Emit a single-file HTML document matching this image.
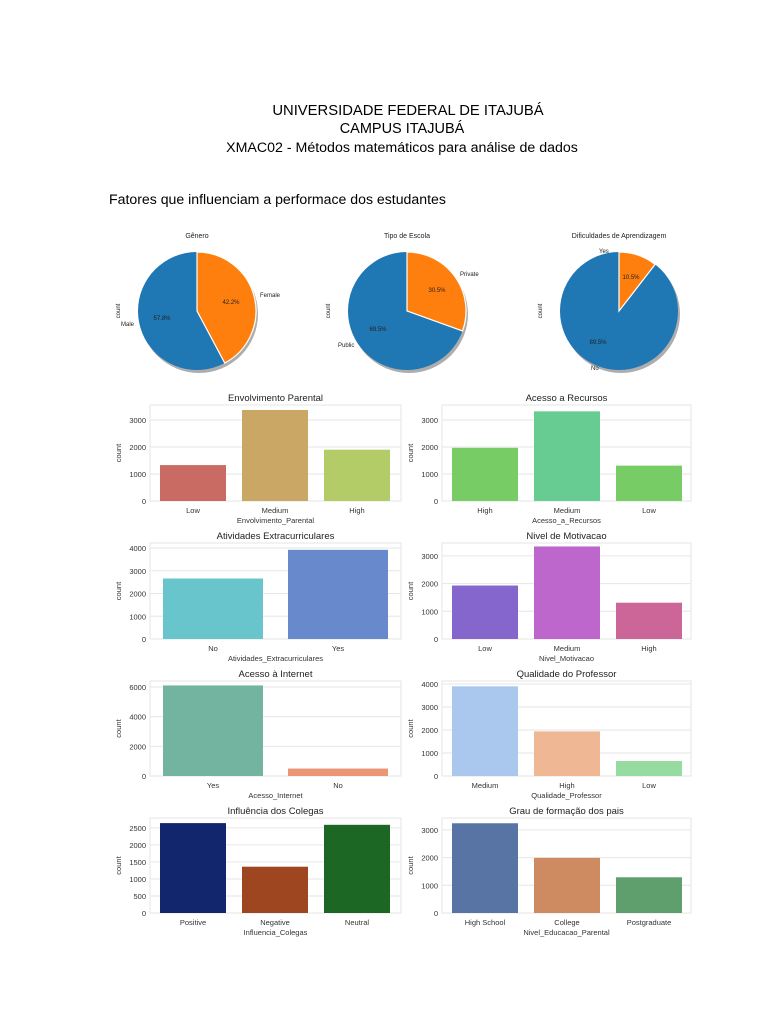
<!DOCTYPE html>
<html><head><meta charset="utf-8"><style>
body{margin:0;background:#fff;}
svg{display:block;font-family:"Liberation Sans",sans-serif;}
</style></head><body>
<svg id="s" width="768" height="1024" xmlns="http://www.w3.org/2000/svg">
<rect width="768" height="1024" fill="#fff"/>
<text x="408" y="115" font-size="14.8" text-anchor="middle" fill="#000">UNIVERSIDADE FEDERAL DE ITAJUBÁ</text>
<text x="402" y="133" font-size="14.5" text-anchor="middle" fill="#000">CAMPUS ITAJUBÁ</text>
<text x="402" y="152" font-size="14.2" text-anchor="middle" fill="#000">XMAC02 - Métodos matemáticos para análise de dados</text>
<text x="109" y="204" font-size="14.1" fill="#000">Fatores que influenciam a performace dos estudantes</text>
<g id="pies" font-size="6" fill="#222"></g>
<g id="bars"></g>
</svg>
<script>
const NS="http://www.w3.org/2000/svg";
function el(p,t,a,txt){const e=document.createElementNS(NS,t);for(const k in a)e.setAttribute(k,a[k]);if(txt!==undefined)e.textContent=txt;p.appendChild(e);return e;}
const pies=document.getElementById('pies');
function pie(cx,cy,r,frac,title,lblO,lblB,pO,pB,posO,posB,pctO,pctB,cntX){
 el(pies,'text',{x:cx,y:238,'text-anchor':'middle','font-size':7},title);
 el(pies,'circle',{cx:cx+2,cy:cy+3,r:r,fill:'#777',opacity:0.6});
 const a=frac*2*Math.PI;
 const x2=cx+r*Math.sin(a),y2=cy-r*Math.cos(a);
 el(pies,'circle',{cx:cx,cy:cy,r:r,fill:'#1f77b4'});
 el(pies,'path',{d:`M${cx},${cy} L${cx},${cy-r} A${r},${r} 0 ${frac>0.5?1:0} 1 ${x2},${y2} Z`,fill:'#ff7f0e',stroke:'#fff','stroke-width':1.2});
 el(pies,'text',{x:posO[0],y:posO[1]},lblO);el(pies,'text',{x:posB[0],y:posB[1]},lblB);
 el(pies,'text',{x:pctO[0],y:pctO[1],'text-anchor':'middle'},pO);el(pies,'text',{x:pctB[0],y:pctB[1],'text-anchor':'middle'},pB);
 el(pies,'text',{x:cntX,y:cy,transform:`rotate(-90 ${cntX} ${cy})`,'text-anchor':'middle'},'count');
}
pie(197,311,59,0.422,'Gênero','Female','Male','42.2%','57.8%',[260,297],[121,326],[231,304],[162,320],120);
pie(407,311,59,0.305,'Tipo de Escola','Private','Public','30.5%','69.5%',[460,276],[338,347],[437,292],[378,331],330);
pie(619,311,59,0.105,'Dificuldades de Aprendizagem','Yes','No','10.5%','89.5%',[599,253],[591,370],[631,279],[598,344],542);
const bars=document.getElementById('bars');
function chart(x0,x1,y0,y1,title,xlabel,max,ticks,cats,vals,cols,bw,gap,firstX){
 el(bars,'text',{x:(x0+x1)/2,y:y0-4,'text-anchor':'middle','font-size':9.5,fill:'#222'},title);
 const sc=(y1-y0)/max;
 for(const t of ticks){const y=y1-t*sc;el(bars,'line',{x1:x0,x2:x1,y1:y,y2:y,stroke:'#e6e6e6','stroke-width':1});
  el(bars,'text',{x:x0-4,y:y+3,'text-anchor':'end','font-size':7.5,fill:'#333'},t);}
 el(bars,'rect',{x:x0,y:y0,width:x1-x0,height:y1-y0,fill:'none',stroke:'#e6e6e6'});
 cats.forEach((c,i)=>{const bx=firstX+i*(bw+gap);const h=vals[i]*sc;
  el(bars,'rect',{x:bx,y:y1-h,width:bw,height:h,fill:cols[i]});
  el(bars,'text',{x:bx+bw/2,y:y1+12,'text-anchor':'middle','font-size':7.5,fill:'#333'},c);});
 el(bars,'text',{x:(x0+x1)/2,y:y1+22,'text-anchor':'middle','font-size':7.5,fill:'#333'},xlabel);
 const ly=(y0+y1)/2;el(bars,'text',{x:x0-29,y:ly,transform:`rotate(-90 ${x0-29} ${ly})`,'text-anchor':'middle','font-size':7.5,fill:'#333'},'count');
}
const L=[150,401],R=[442,691];
chart(L[0],L[1],405,501,'Envolvimento Parental','Envolvimento_Parental',3555,[0,1000,2000,3000],['Low','Medium','High'],[1330,3370,1900],['#c96a63','#caa764','#b3cc67'],66,16,160);
chart(R[0],R[1],405,501,'Acesso a Recursos','Acesso_a_Recursos',3555,[0,1000,2000,3000],['High','Medium','Low'],[1970,3320,1310],['#77cc66','#66cc92','#77cc66'],66,16,452);
chart(L[0],L[1],543,639,'Atividades Extracurriculares','Atividades_Extracurriculares',4220,[0,1000,2000,3000,4000],['No','Yes'],[2660,3920],['#68c5cc','#6889cc'],100,25,163);
chart(R[0],R[1],543,639,'Nivel de Motivacao','Nivel_Motivacao',3465,[0,1000,2000,3000],['Low','Medium','High'],[1930,3340,1310],['#8466cc','#bd66cc','#cc6699'],66,16,452);
chart(L[0],L[1],681,776,'Acesso à Internet','Acesso_Internet',6400,[0,2000,4000,6000],['Yes','No'],[6100,500],['#72b49f','#ea9674'],100,25,163);
chart(R[0],R[1],681,776,'Qualidade do Professor','Qualidade_Professor',4130,[0,1000,2000,3000,4000],['Medium','High','Low'],[3900,1940,650],['#aac8ee','#f0b794','#96dba0'],66,16,452);
chart(L[0],L[1],818,913,'Influência dos Colegas','Influencia_Colegas',2790,[0,500,1000,1500,2000,2500],['Positive','Negative','Neutral'],[2640,1360,2590],['#12266e','#9e4620','#1d6724'],66,16,160);
chart(R[0],R[1],818,913,'Grau de formação dos pais','Nivel_Educacao_Parental',3430,[0,1000,2000,3000],['High School','College','Postgraduate'],[3240,1990,1290],['#5874a4','#ce8a60','#5f9f6e'],66,16,452);
</script>
</body></html>
